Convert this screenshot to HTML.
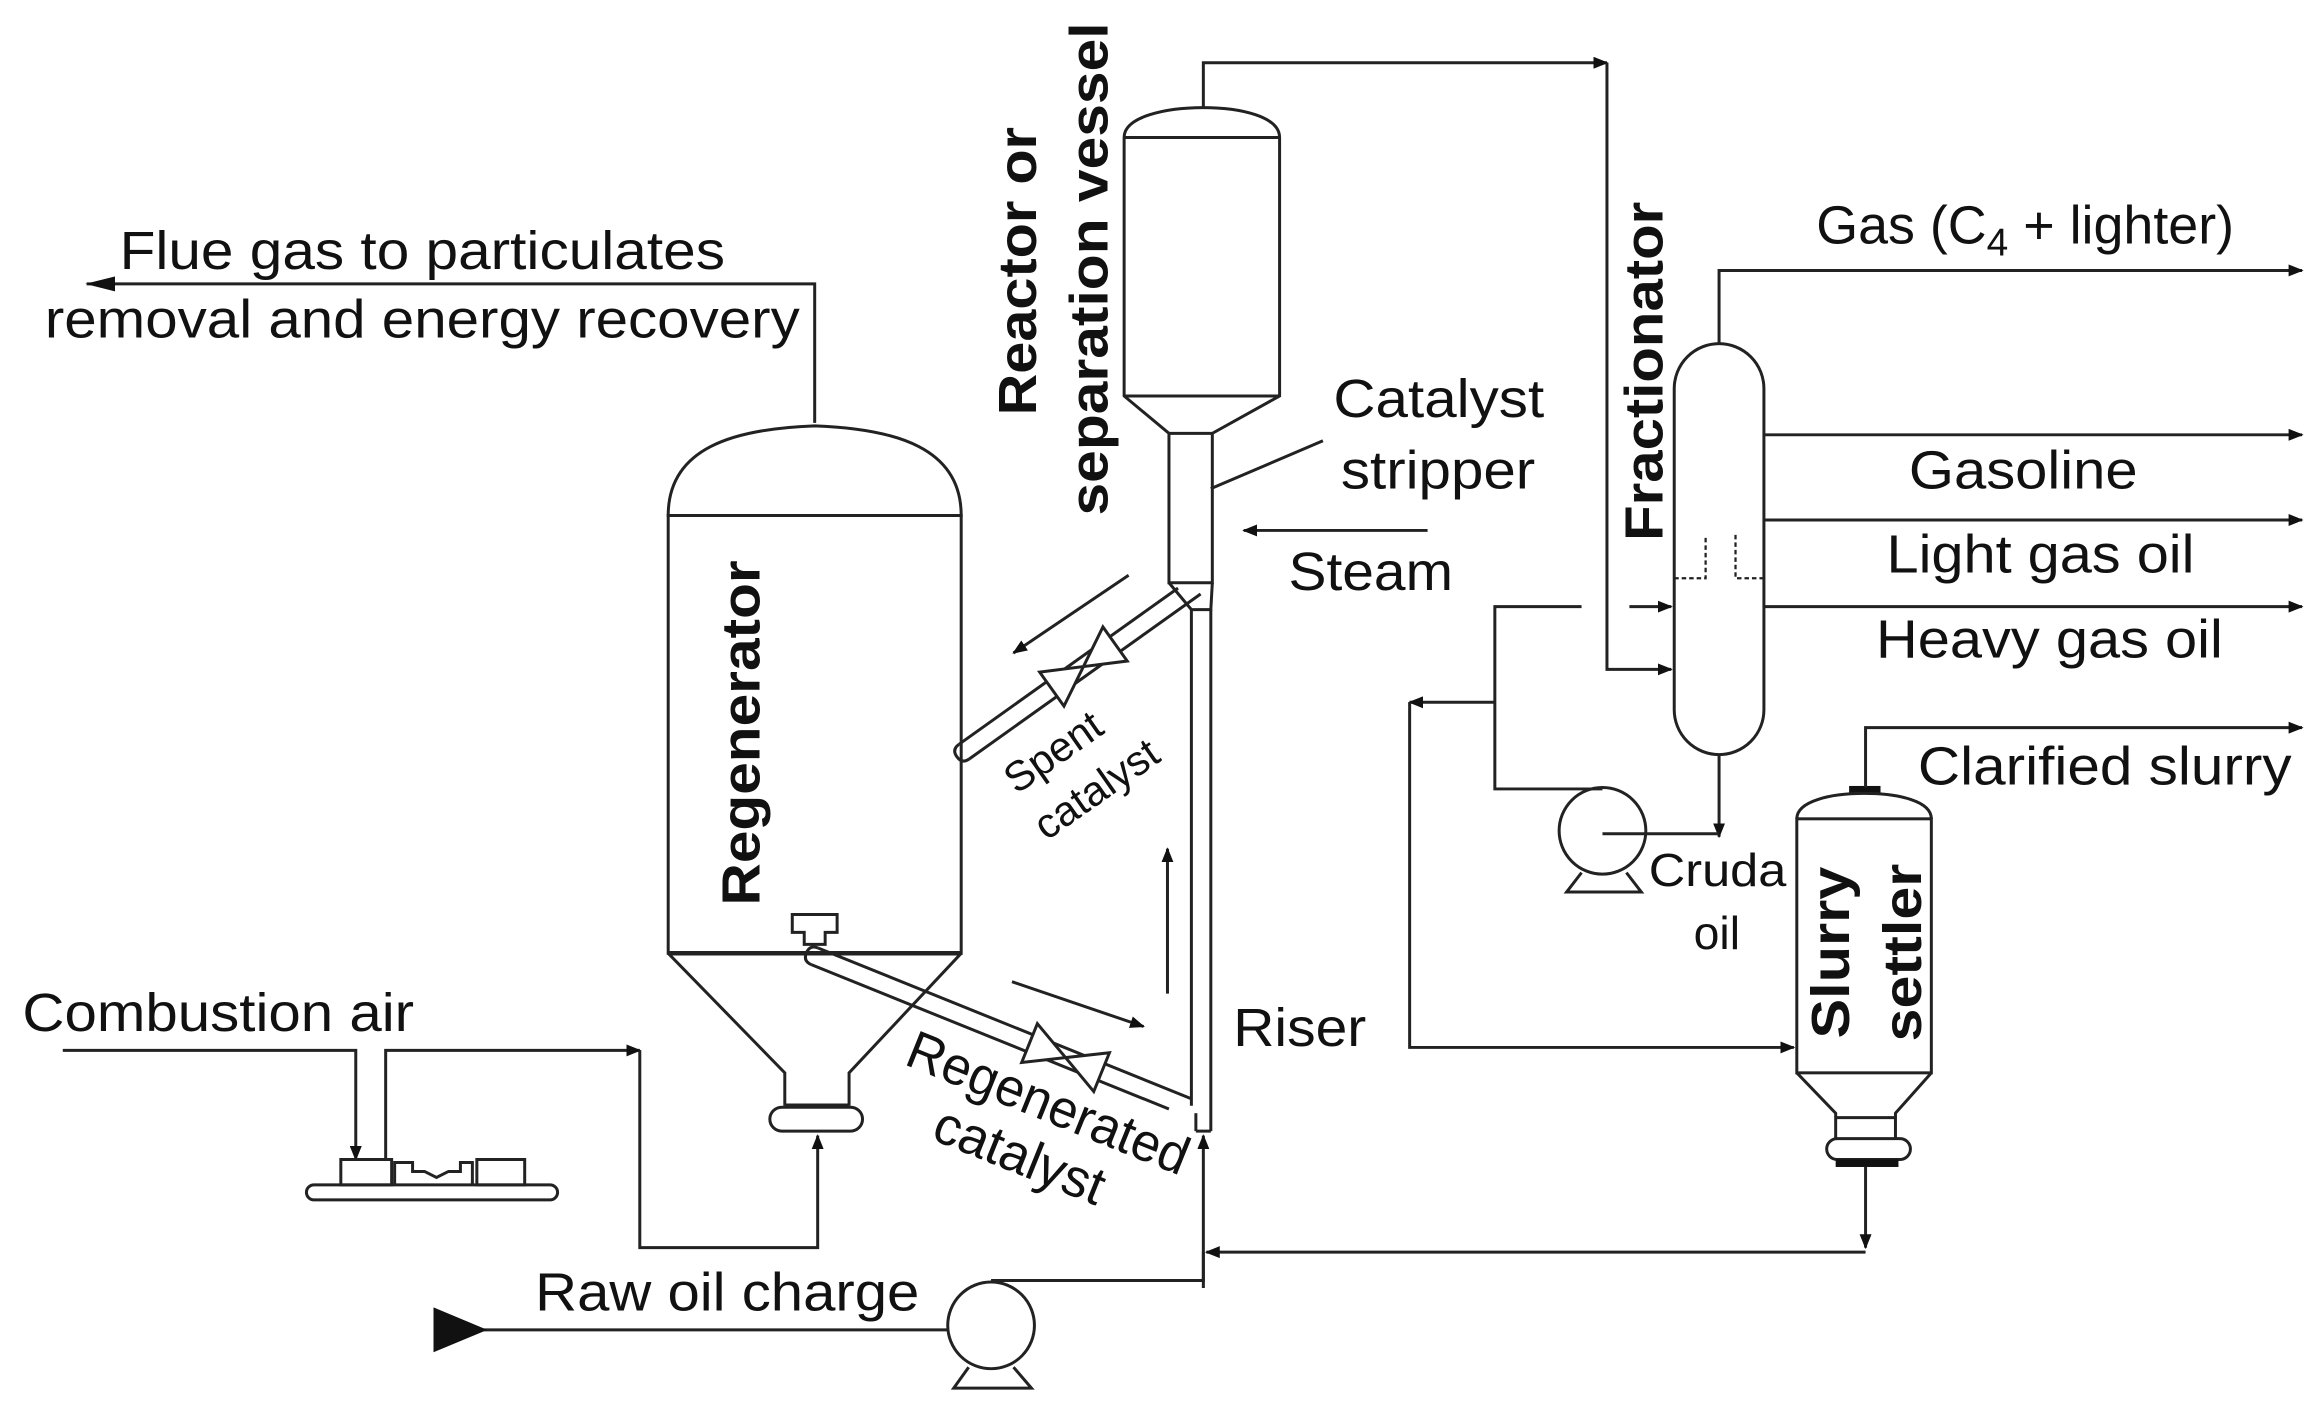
<!DOCTYPE html>
<html><head><meta charset="utf-8"><style>
html,body{margin:0;padding:0;background:#fff;}
svg{display:block;}
text{font-family:"Liberation Sans",Arial,sans-serif;fill:#111;}
</style></head><body>
<svg width="2320" height="1418" viewBox="0 0 1552 949" preserveAspectRatio="none" xmlns="http://www.w3.org/2000/svg">
<defs>
<marker id="a" markerWidth="10" markerHeight="8" refX="9" refY="4" orient="auto" markerUnits="userSpaceOnUse"><path d="M0,0 L10,4 L0,8 Z" fill="#111"/></marker>
<marker id="b" markerWidth="20" markerHeight="10" refX="19" refY="5" orient="auto" markerUnits="userSpaceOnUse"><path d="M0,0 L20,5 L0,10 Z" fill="#111"/></marker>
</defs>
<g fill="none" stroke="#222" stroke-width="2">
<!-- Flue gas -->
<polyline points="545,283 545,190 58,190" marker-end="url(#b)"/>
<!-- Regenerator -->
<path d="M447,345 C447,300 490,287 545,285 C600,287 643,300 643,345 Z" fill="#fff"/>
<rect x="447" y="345" width="196" height="293" fill="#fff"/>
<line x1="447" y1="638" x2="643" y2="638" stroke-width="3"/>
<polyline points="447,638 525,718 525,740"/>
<polyline points="643,638 568,718 568,740"/>
<line x1="525" y1="740" x2="568" y2="740" stroke-width="3"/>
<rect x="515" y="741" width="62" height="16" rx="8"/>
<!-- regenerated catalyst pipe -->
<path d="M530,612 h30 v12 h-8 v8 h-14 v-8 h-8 z" fill="#fff"/>
<g transform="translate(545,640) rotate(22)">
<path d="M0,-6 L270,-6 M0,6 L258,6" />
<path d="M0,-6 q-6,0 -6,6 q0,6 6,6"/>
<path d="M155,-14 L181,0 L155,14 Z M207,-14 L181,0 L207,14 Z" fill="#fff"/>
</g>
<line x1="797" y1="740" x2="797" y2="408"/>
<line x1="810" y1="757" x2="810" y2="408"/>
<line x1="800" y1="757" x2="810" y2="757"/>
<line x1="800" y1="745" x2="800" y2="757"/>
<!-- Reactor -->
<path d="M752,92 C752,78 780,72 805,72 C830,72 856,78 856,92" fill="#fff"/>
<line x1="752" y1="92" x2="856" y2="92"/>
<polyline points="752,92 752,265 782,290 782,390 811,390 811,290 856,265 856,92"/>
<line x1="752" y1="265" x2="856" y2="265"/>
<line x1="782" y1="290" x2="811" y2="290"/>
<polyline points="782,390 797,408 810,408 811,390"/>
<!-- spent catalyst pipe -->
<g transform="translate(645,503) rotate(-35.5)">
<path d="M0,-6 L180,-6 M0,6 L190,6"/>
<path d="M0,-6 q-6,0 -6,6 q0,6 6,6"/>
<path d="M72,-14 L98,0 L72,14 Z M124,-14 L98,0 L124,14 Z" fill="#fff"/>
</g>
<!-- top outlet -->
<polyline points="805,72 805,42 1075,42" marker-end="url(#a)"/>
<polyline points="1075,42 1075,448 1118,448" marker-end="url(#a)"/>
<!-- flow arrows -->
<line x1="755" y1="385" x2="678" y2="437" marker-end="url(#a)"/>
<line x1="677" y1="657" x2="765" y2="687" marker-end="url(#a)"/>
<line x1="781" y1="665" x2="781" y2="568" marker-end="url(#a)"/>
<line x1="955" y1="355" x2="832" y2="355" marker-end="url(#a)"/>
<line x1="810" y1="327" x2="885" y2="295"/>
<!-- Fractionator -->
<rect x="1120" y="230" width="60" height="275" rx="30" fill="#fff"/>
<polyline points="1150,230 1150,181 1540,181" marker-end="url(#a)"/>
<line x1="1180" y1="291" x2="1540" y2="291" marker-end="url(#a)"/>
<line x1="1180" y1="348" x2="1540" y2="348" marker-end="url(#a)"/>
<line x1="1180" y1="406" x2="1540" y2="406" marker-end="url(#a)"/>
<g stroke-dasharray="3,2" stroke-width="1.5"><polyline points="1120,387 1141,387 1141,358"/><polyline points="1180,387 1161,387 1161,358"/></g>
<polyline points="1058,406 1000,406 1000,528 1072,528"/>
<line x1="1090" y1="406" x2="1118" y2="406" marker-end="url(#a)"/>
<line x1="1000" y1="470" x2="943" y2="470" marker-end="url(#a)"/>
<polyline points="943,470 943,701 1200,701" marker-end="url(#a)"/>
<line x1="1150" y1="505" x2="1150" y2="560" marker-end="url(#a)"/>
<line x1="1150" y1="558" x2="1072" y2="558"/>
<circle cx="1072" cy="556" r="29"/>
<path d="M1058,584 L1048,597 L1098,597 L1088,584"/>
<!-- Slurry settler -->
<rect x="1237" y="526" width="21" height="5" fill="#111" stroke="none"/>
<polyline points="1248,527 1248,487 1540,487" marker-end="url(#a)"/>
<path d="M1202,548 C1202,536 1225,531 1247,531 C1270,531 1292,536 1292,548" fill="#fff"/>
<rect x="1202" y="548" width="90" height="170" fill="#fff"/>
<polyline points="1202,718 1228,745 1228,762"/>
<polyline points="1292,718 1268,745 1268,762"/>
<line x1="1228" y1="748" x2="1268" y2="748"/>
<rect x="1222" y="762" width="56" height="14" rx="7"/>
<rect x="1228" y="776" width="42" height="5" fill="#111" stroke="none"/>
<line x1="1248" y1="781" x2="1248" y2="835" marker-end="url(#a)"/>
<line x1="1248" y1="838" x2="807" y2="838" marker-end="url(#a)"/>
<line x1="805" y1="862" x2="805" y2="760" marker-end="url(#a)"/>
<polyline points="663,857 805,857 805,838"/>
<circle cx="663" cy="887" r="29"/>
<path d="M648,915 L638,929 L690,929 L678,915"/>
<line x1="320" y1="890" x2="634" y2="890"/>
<!-- Combustion air -->
<polyline points="42,703 238,703 238,776" marker-end="url(#a)"/>
<polyline points="258,776 258,703 428,703" marker-end="url(#a)"/>
<polyline points="428,703 428,835 547,835 547,760" marker-end="url(#a)"/>
<rect x="228" y="776" width="34" height="17"/>
<rect x="319" y="776" width="32" height="17"/>
<path d="M264,793 v-15 h12 v6 h8 l8,4 8,-4 h8 v-6 h8 v15"/>
<rect x="205" y="793" width="168" height="10" rx="5"/>
</g>
<path d="M290,875 L326,890 L290,905 Z" fill="#111"/>
<g font-size="36" lengthAdjust="spacingAndGlyphs">
<text x="80" y="180" textLength="405" lengthAdjust="spacingAndGlyphs">Flue gas to particulates</text>
<text x="30" y="226" textLength="505" lengthAdjust="spacingAndGlyphs">removal and energy recovery</text>
<text x="892" y="279" textLength="141" lengthAdjust="spacingAndGlyphs">Catalyst</text>
<text x="897" y="327" textLength="130" lengthAdjust="spacingAndGlyphs">stripper</text>
<text x="862" y="395" textLength="110" lengthAdjust="spacingAndGlyphs">Steam</text>
<text x="825" y="700" textLength="89" lengthAdjust="spacingAndGlyphs">Riser</text>
<text x="1215" y="163">Gas (C<tspan font-size="26" dy="8">4</tspan><tspan dy="-8"> + lighter)</tspan></text>
<text x="1277" y="327" textLength="153" lengthAdjust="spacingAndGlyphs">Gasoline</text>
<text x="1262" y="383" textLength="206" lengthAdjust="spacingAndGlyphs">Light gas oil</text>
<text x="1255" y="440" textLength="232" lengthAdjust="spacingAndGlyphs">Heavy gas oil</text>
<text x="1283" y="525" textLength="250" lengthAdjust="spacingAndGlyphs">Clarified slurry</text>
<text x="15" y="690" textLength="262" lengthAdjust="spacingAndGlyphs">Combustion air</text>
<text x="358" y="877" textLength="257" lengthAdjust="spacingAndGlyphs">Raw oil charge</text>
<text x="1103" y="593" font-size="31" textLength="92" lengthAdjust="spacingAndGlyphs">Cruda</text>
<text x="1133" y="635" font-size="31">oil</text>
<text transform="translate(680,532) rotate(-35)" font-size="28">Spent</text>
<text transform="translate(700,563) rotate(-35)" font-size="28">catalyst</text>
<text transform="translate(604,712) rotate(22)" textLength="200" lengthAdjust="spacingAndGlyphs">Regenerated</text>
<text transform="translate(622,762) rotate(22)" textLength="120" lengthAdjust="spacingAndGlyphs">catalyst</text>
</g>
<g font-size="36" font-weight="bold">
<text transform="translate(508,606) rotate(-90)" textLength="231" lengthAdjust="spacingAndGlyphs">Regenerator</text>
<text transform="translate(693,278) rotate(-90)" textLength="193" lengthAdjust="spacingAndGlyphs">Reactor or</text>
<text transform="translate(741,345) rotate(-90)" textLength="330" lengthAdjust="spacingAndGlyphs">separation vessel</text>
<text transform="translate(1112,362) rotate(-90)" textLength="227" lengthAdjust="spacingAndGlyphs">Fractionator</text>
<text transform="translate(1237,695) rotate(-90)" textLength="115" lengthAdjust="spacingAndGlyphs">Slurry</text>
<text transform="translate(1285,697) rotate(-90)" textLength="119" lengthAdjust="spacingAndGlyphs">settler</text>
</g>
</svg>
</body></html>
